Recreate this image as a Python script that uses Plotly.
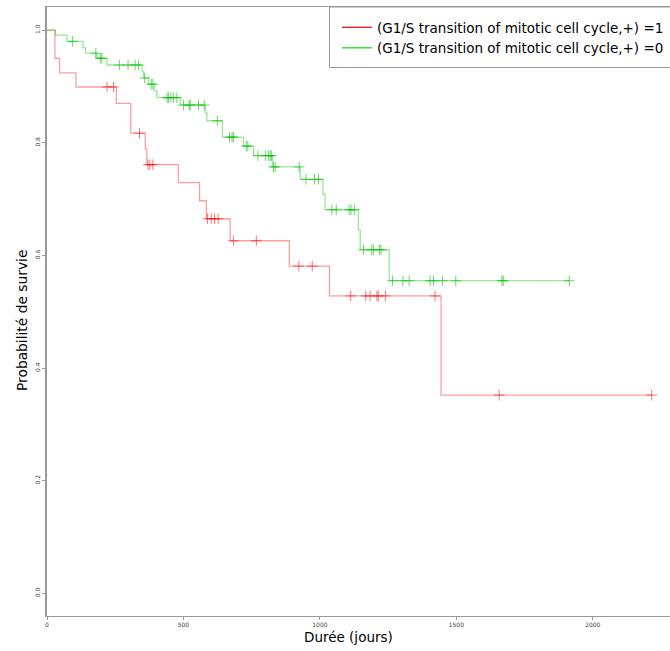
import bisect
import plotly.graph_objects as go

# ---- data ----
red_event_times = [0, 29, 46, 106, 254, 307, 360, 366, 481, 559, 584, 671, 888, 1035, 1444]
red_surv = [1.0, 0.950, 0.924, 0.899, 0.870, 0.817, 0.789, 0.761, 0.729, 0.697, 0.665, 0.626, 0.581, 0.528, 0.352]
red_censor = [220, 244, 339, 370, 377, 388, 588, 602, 614, 627, 683, 767, 923, 972,
              1113, 1168, 1184, 1209, 1214, 1240, 1422, 1657, 2216]

green_event_times = [0, 31, 73, 132, 141, 183, 220, 348, 354, 372, 393, 403, 488, 580, 586,
                     643, 720, 757, 826, 928, 1011, 1019, 1141, 1148, 1254]
green_surv = [1.0, 0.991, 0.980, 0.969, 0.959, 0.950, 0.938, 0.927, 0.915, 0.904, 0.892, 0.880,
              0.867, 0.853, 0.839, 0.810, 0.794, 0.777, 0.757, 0.735, 0.709, 0.681, 0.645, 0.610, 0.555]
green_censor = [94, 179, 195, 201, 265, 297, 323, 336, 358, 382, 388, 440, 445, 454, 464, 476,
                500, 521, 525, 555, 576, 624, 669, 678, 683, 730, 736, 773, 800, 812, 818, 822,
                830, 836, 924, 949, 980, 995, 1044, 1060, 1107, 1114, 1126, 1160, 1190, 1196,
                1218, 1224, 1266, 1304, 1327, 1404, 1416, 1449, 1498, 1667, 1672, 1914]

legend_labels = ["(G1/S transition of mitotic cell cycle,+) =1",
                 "(G1/S transition of mitotic cell cycle,+) =0"]
x_ticks = [0, 500, 1000, 1500, 2000]
y_ticks = [0.0, 0.2, 0.4, 0.6, 0.8, 1.0]
x_title = "Durée (jours)"
y_title = "Probabilité de survie"


def step_value(times, surv, t):
    i = bisect.bisect_right(times, t) - 1
    return surv[max(i, 0)]


def km_trace(times, surv, censor, color, mark_color):
    end = max(censor[-1], times[-1])
    xs = list(times) + [end]
    ys = list(surv) + [surv[-1]]
    line = go.Scatter(x=xs, y=ys, mode="lines", line=dict(color=color, width=1.3, shape="hv"),
                      showlegend=False, hoverinfo="skip")
    cy = [step_value(times, surv, c) for c in censor]
    marks = go.Scatter(x=censor, y=cy, mode="markers",
                       marker=dict(symbol="cross-thin", size=7.5,
                                   line=dict(color=mark_color, width=1)),
                       showlegend=False, hoverinfo="skip")
    return [line, marks]


fig = go.Figure()
for tr in km_trace(red_event_times, red_surv, red_censor, "rgba(255,0,0,0.38)", "rgba(255,0,0,0.55)"):
    fig.add_trace(tr)
for tr in km_trace(green_event_times, green_surv, green_censor, "rgba(0,205,0,0.42)", "rgba(0,190,0,0.6)"):
    fig.add_trace(tr)

fig.add_trace(go.Scatter(x=[None], y=[None], mode="lines", line=dict(color="#ee0000", width=1.2),
                         name=legend_labels[0]))
fig.add_trace(go.Scatter(x=[None], y=[None], mode="lines", line=dict(color="#00dd00", width=1.2),
                         name=legend_labels[1]))

L, T, B = 47, 7, 35
W, H = 670, 651
pw = W - L
ph = H - B - T


def px_x(x):
    return (x - L) / pw


def px_y(y):
    return (H - B - y) / ph


fig.update_layout(
    width=W, height=H,
    margin=dict(l=L, r=0, t=T, b=B),
    paper_bgcolor="white", plot_bgcolor="white",
    font=dict(family="DejaVu Sans", color="black"),
    legend=dict(x=px_x(337), y=px_y(12), xanchor="left", yanchor="top",
                bgcolor="rgba(0,0,0,0)", borderwidth=0,
                font=dict(size=13.5, family="DejaVu Sans", color="black"),
                itemwidth=30),
    shapes=[dict(type="rect", xref="paper", yref="paper",
                 x0=px_x(329.5), x1=px_x(675), y0=px_y(67.5), y1=px_y(7),
                 line=dict(color="#999999", width=1), fillcolor="rgba(0,0,0,0)", layer="above")],
    xaxis=dict(range=[0, 2283], tickvals=x_ticks, ticktext=[str(v) for v in x_ticks],
               showgrid=False, zeroline=False, showline=True, linecolor="#999999", linewidth=1,
               mirror=True, ticks="outside", ticklen=3, tickcolor="#999999",
               tickfont=dict(size=6, color="#444444")),
    yaxis=dict(range=[-0.0403, 1.041], tickvals=y_ticks, ticktext=[f"{v:.1f}" for v in y_ticks],
               showgrid=False, zeroline=False, showline=True, linecolor="#999999", linewidth=2,
               ticks="outside", ticklen=3, tickcolor="#999999", tickangle=-90,
               tickfont=dict(size=6, color="#444444")),
    annotations=[
        dict(text=x_title, xref="paper", yref="paper", x=px_x(348), y=px_y(637),
             xanchor="center", yanchor="middle", showarrow=False, font=dict(size=13.5, color="black")),
        dict(text=y_title, xref="paper", yref="paper", x=px_x(22), y=px_y(321),
             xanchor="center", yanchor="middle", textangle=-90, showarrow=False,
             font=dict(size=13.8, color="black")),
    ],
)

fig.write_html("out.html", config={"displayModeBar": False},
               post_script="document.body.style.margin='0';document.body.style.overflow='hidden';")
